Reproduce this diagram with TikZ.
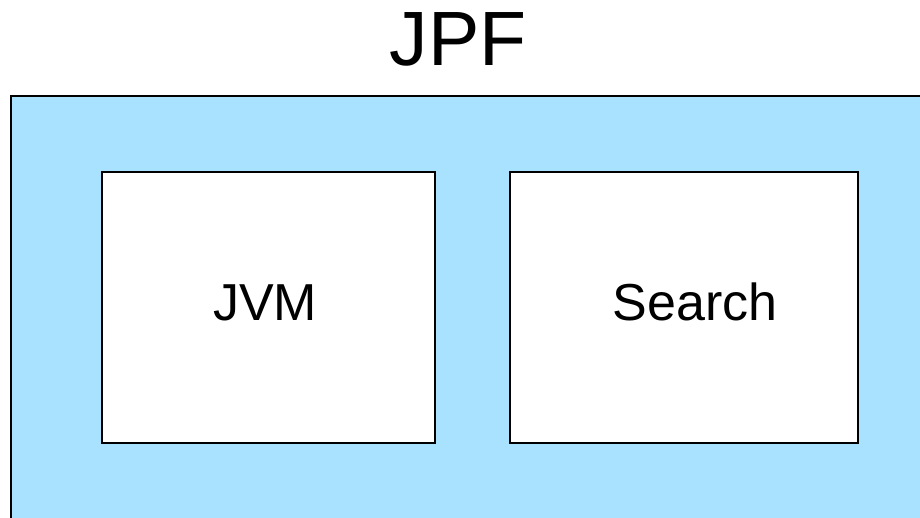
\documentclass[tikz,border=0pt]{standalone}
\usepackage{fontspec}
\setmainfont{Liberation Sans}
\definecolor{jpfblue}{HTML}{A9E2FE}
\begin{document}
\begin{tikzpicture}[x=1pt,y=-1pt,
  outerbox/.style={draw=black,line width=1.8pt,fill=jpfblue},
  innerbox/.style={draw=black,line width=1.8pt,fill=white},
  lbl/.style={font=\fontsize{52}{60}\selectfont,inner sep=0pt,anchor=base},
  title/.style={font=\fontsize{77}{90}\selectfont,inner sep=0pt,anchor=base}]
\useasboundingbox (0,0) rectangle (920,517);
\begin{scope}
\clip (0,0) rectangle (920,517);
\draw[outerbox] (11,96) rectangle (940,540);
\end{scope}
\node[title] (jpf) at (458,65) {JPF};
\draw[innerbox] (102,172) rectangle (435,443);
\coordinate (jvmc) at (265,320);
\node[lbl] (jvm) at (jvmc) {JVM};
\draw[innerbox] (510,172) rectangle (858,443);
\node[lbl] (search) at (695,320) {Search};
\end{tikzpicture}
\end{document}
